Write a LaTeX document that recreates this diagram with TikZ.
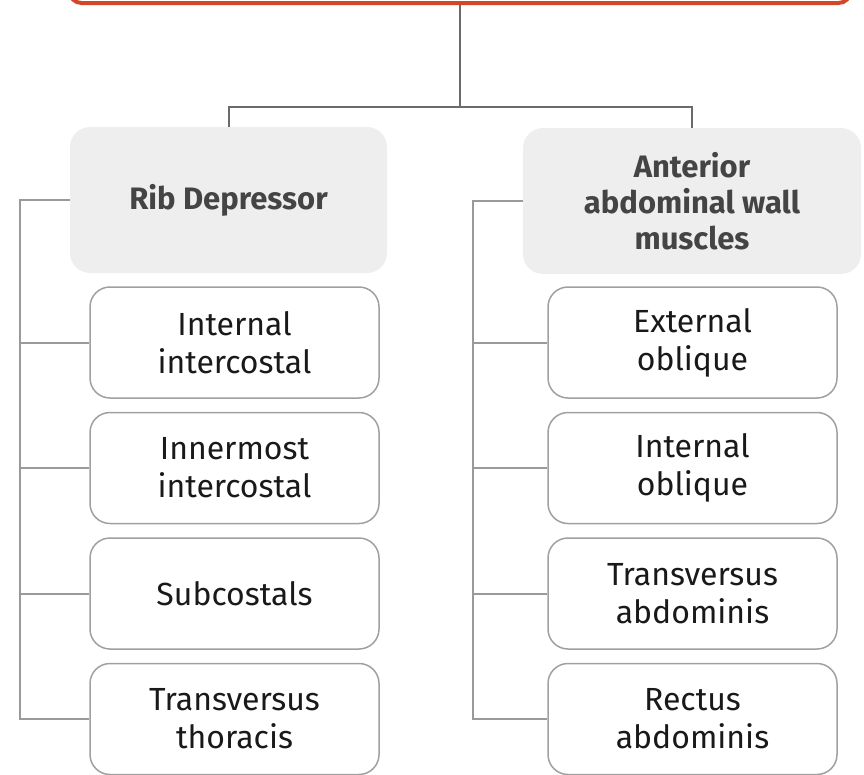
\documentclass[tikz,border=0pt]{standalone}
\usepackage{fontspec}
\setmainfont{Fira Sans}
\usetikzlibrary{positioning}
\definecolor{rootred}{HTML}{D4462A}
\definecolor{groupgrey}{HTML}{EEEEEE}
\definecolor{grouptext}{HTML}{444444}
\definecolor{boxgrey}{HTML}{A0A0A0}
\definecolor{trunkgrey}{HTML}{6B6B6B}
\definecolor{linkgrey}{HTML}{9A9A9A}
\tikzstyle{rootbox} = [rectangle, rounded corners=12pt, minimum width=781pt, minimum height=66pt, draw=rootred, line width=4pt]
\tikzstyle{groupbox} = [rectangle, rounded corners=20pt, minimum height=146pt, fill=groupgrey, text=grouptext, align=center, font=\fontsize{31}{36}\selectfont\bfseries]
\tikzstyle{musclebox} = [rectangle, rounded corners=20pt, minimum width=289pt, minimum height=111pt, draw=boxgrey, line width=1.5pt, text=black!90, align=center, font=\fontsize{32}{38}\selectfont]
\tikzstyle{trunk} = [draw=trunkgrey, line width=2pt]
\tikzstyle{link} = [draw=linkgrey, line width=2pt]

\begin{document}
\begin{tikzpicture}[x=1pt, y=-1pt, node distance=125.5pt]
  \useasboundingbox (0,0) rectangle (864,774);
  \clip (0,0) rectangle (864,774);
  \node (root) [rootbox] at (460,-30) {};
  \node (ribdep) [groupbox, minimum width=317pt] at (228.5,200) {Rib Depressor};
  \node (abdwall) [groupbox, minimum width=338pt] at (692,201)
    {Anterior\\abdominal wall\\muscles};
  % rib depressors
  \node (intic) [musclebox, below of=ribdep, yshift=-17pt, xshift=6pt]
    {Internal\\intercostal};
  \node (innic) [musclebox, below of=intic] {Innermost\\intercostal};
  \node (subc) [musclebox, below of=innic] {Subcostals};
  \node (trth) [musclebox, below of=subc] {Transversus\\thoracis};
  % abdominal wall
  \node (extobl) [musclebox, below of=abdwall, yshift=-16pt, xshift=0.5pt]
    {External\\oblique};
  \node (intobl) [musclebox, below of=extobl] {Internal\\oblique};
  \node (trabd) [musclebox, below of=intobl] {Transversus\\abdominis};
  \node (recabd) [musclebox, below of=trabd] {Rectus\\abdominis};
  \coordinate (split) at (460,107);
  \draw [trunk] (root) -- (split) -| (ribdep);
  \draw [trunk] (split) -| (abdwall);
  \foreach \m in {intic, innic, subc, trth}
    \draw [link] (ribdep.west) -- ++(-50,0) |- (\m.west);
  \foreach \m in {extobl, intobl, trabd, recabd}
    \draw [link] (abdwall.west) -- ++(-50,0) |- (\m.west);
\end{tikzpicture}
\end{document}
